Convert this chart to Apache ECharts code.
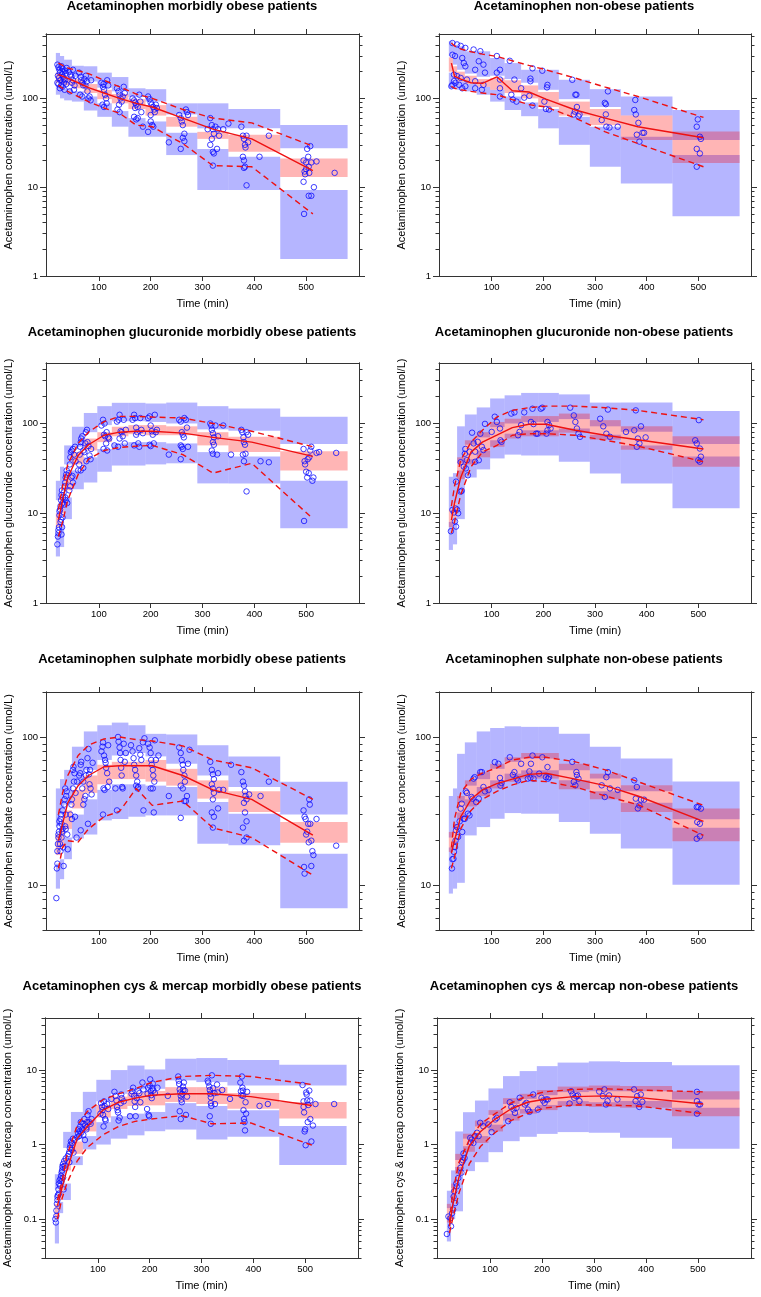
<!DOCTYPE html>
<html><head><meta charset="utf-8">
<script src="https://cdn.jsdelivr.net/npm/echarts@6/dist/echarts.min.js"></script>
<style>html,body{margin:0;padding:0;background:#fff}#c{width:761px;height:1297px}</style>
</head><body><div id="c"></div><script>
// ---------- shared ----------
const binEdges = [17,25,33,48,71,97,125,157,190,230,290,350,450,580];
const obeseTimes = [22,30,40,60,80,110,140,172,203,262,320,395,513];
const nonObeseTimes = [22,28,40,60,82,110,140,172,205,262,320,383,510];
const xTickValues = [100,200,300,400,500];
const yMajorA = [1,10,100];
const yMinorA = [2,3,4,5,6,7,8,9,20,30,40,50,60,70,80,90,200,300,400,500];
const yMajorS = [10,100];
const yMinorS = [5,6,7,8,9,20,30,40,50,60,70,80,90,200];
const yMajorC = [0.1,1,10];
const yMinorC = [0.03,0.04,0.05,0.06,0.07,0.08,0.09,0.2,0.3,0.4,0.5,0.6,0.7,0.8,0.9,2,3,4,5,6,7,8,9,20,30,40,50];
const titles = ["Acetaminophen morbidly obese patients","Acetaminophen non-obese patients",
  "Acetaminophen glucuronide morbidly obese patients","Acetaminophen glucuronide non-obese patients",
  "Acetaminophen sulphate morbidly obese patients","Acetaminophen sulphate non-obese patients",
  "Acetaminophen cys & mercap morbidly obese patients","Acetaminophen cys & mercap non-obese patients"];
const yNames = ["Acetaminophen concentration (umol/L)","Acetaminophen glucuronide concentration (umol/L)",
  "Acetaminophen sulphate concentration (umol/L)","Acetaminophen cys & mercap concentration (umol/L)"];
const xName = "Time (min)";

// ---------- Panel 1: acetaminophen, obese ----------
const p1LowBlue = [[110,140],[100,135],[95,128],[92,120],[73,105],[62,88],[48,72],[37,60],[37,55],[23,41],[9.3,27],[9.3,22],[1.55,9.3]];
const p1Pink = [[150,195],[145,188],[140,178],[130,165],[115,145],[98,125],[88,112],[76,98],[64,84],[48,62],[35,42],[25,39],[13,21]];
const p1UpBlue = [[205,325],[198,300],[188,273],[175,233],[155,230],[132,195],[120,174],[104,130],[92,127],[66,88],[46,88],[46,76],[27.5,50]];
const p1Median = [185,178,168,150,132,115,100,88,80,60,45,35,15.4];
const p1P95 = [250,235,220,205,190,160,135,112,100,75,60,53,29];
const p1P05 = [140,130,120,105,92,78,68,50,48,31,17.5,17,5];
const p1Obs = [[20,240],[22,225],[24,210],[25,195],[21,180],[23,170],[26,160],[20,150],[22,145],[27,140],[28,230],[30,215],[30,200],[29,185],[31,175],[32,165],[33,150],[30,135],[25,130],[35,205],[36,190],[35,160],[37,145],[38,220],[34,125],[42,200],[45,185],[47,175],[50,160],[48,150],[52,125],[44,120],[50,210],[55,180],[53,140],[62,195],[65,175],[66,160],[68,150],[70,140],[72,165],[75,180],[77,155],[78,120],[80,100],[82,105],[84,95],[64,110],[68,105],[74,140],[85,160],[105,150],[108,135],[110,125],[112,110],[114,100],[107,85],[110,80],[115,88],[116,160],[118,140],[109,145],[135,130],[138,120],[140,110],[142,100],[144,92],[136,75],[140,70],[146,105],[150,115],[139,85],[148,135],[165,100],[168,95],[170,90],[172,85],[175,80],[168,62],[172,58],[175,60],[178,110],[180,92],[182,70],[185,48],[170,78],[195,105],[198,98],[200,90],[202,85],[205,80],[207,75],[200,55],[203,50],[205,48],[195,42],[208,70],[210,85],[212,78],[200,65],[255,65],[258,60],[260,55],[262,50],[265,40],[262,36],[268,75],[270,70],[265,33],[258,27],[272,65],[235,32],[315,60],[318,50],[320,45],[322,40],[318,35],[315,30],[320,25],[322,24],[325,48],[330,45],[332,38],[328,27],[320,17.5],[310,45],[340,45],[375,48],[378,38],[380,35],[382,30],[383,28],[378,22],[380,20],[382,17],[385,10.5],[385,38],[388,32],[380,16.5],[410,22],[428,38],[350,52],[495,20],[497,15],[498,14],[500,19],[502,27],[504,22],[505,17],[506,14.5],[508,29],[510,19],[495,11.5],[505,8],[510,8],[515,10],[496,5],[500,16],[520,19.5],[555,14.5]];

// ---------- Panel 2: acetaminophen, non-obese ----------
const p2LowBlue = [[131,195],[128,160],[125,155],[120,145],[110,135],[92,125],[74,105],[63,90],[46,76],[30,62],[17,48],[11,37],[4.7,23]];
const p2Pink = [[200,290],[165,230],[155,200],[145,180],[135,165],[125,170],[115,160],[100,140],[80,118],[64,92],[50,76],[34,64],[18.7,42.5]];
const p2UpBlue = [[300,440],[240,400],[210,386],[190,339],[175,339],[180,285],[165,250],[150,210],[125,210],[98,162],[80,127],[64,105],[34,74]];
const p2Median = [250,178,165,150,148,175,122,118,98,74,60,48,36];
const p2P95 = [420,390,360,335,315,297,265,235,210,169,134,105,61];
const p2P05 = [137,130,125,120,115,110,97,85,80,60,42,31,17];
const p2Obs = [[24,420],[33,405],[40,390],[49,370],[65,355],[78,340],[110,300],[135,265],[179,218],[198,205],[24,310],[29,300],[43,285],[46,250],[49,230],[75,262],[84,240],[68,210],[87,195],[110,195],[116,210],[27,185],[33,178],[40,170],[52,163],[68,156],[84,142],[27,156],[30,150],[37,142],[49,137],[24,142],[22,137],[43,130],[68,130],[81,125],[116,163],[144,163],[116,130],[116,105],[138,110],[141,97],[148,92],[157,130],[163,102],[173,107],[175,156],[175,167],[179,83],[202,92],[207,133],[208,142],[205,76],[211,75],[256,162],[262,110],[264,110],[261,71],[265,80],[268,63],[270,66],[259,66],[313,57],[319,89],[321,86],[325,120],[321,66],[322,48],[328,47],[344,48],[378,96],[376,74],[379,66],[381,39],[384,53],[386,32.6],[392,41],[395,41],[499,58],[497,48],[503,37],[505,35],[497,27],[503,24],[497,17]];

// ---------- Panel 3: glucuronide, obese ----------
const p3LowBlue = [[3.3,6],[4.2,8],[8.6,15],[18.5,30],[22,42],[29,52],[34,60],[34,62],[35,62],[36,60],[21.5,48],[21.5,43],[6.8,23]];
const p3Pink = [[7,10],[10,15],[18,28],[35,48],[50,68],[62,80],[72,92],[76,96],[74,96],[74,93],[57,80],[48,71],[30,49]];
const p3UpBlue = [[14,23],[20,33],[35,57],[55,92],[80,131],[96,156],[106,170],[106,170],[104,167],[100,171],[86,156],[83,147],[59,119]];
const p3Median = [8.5,14,25,44,58,74,80,82,82,78,70,62,43];
const p3P95 = [11,20,35,60,80,105,120,120,118,115,100,82,55];
const p3P05 = [5.5,8,14,27,40,50,54,56,57,45,28,36,8.7];
const p3Obs = [[20,4.5],[21,5.5],[22,6],[22,6.5],[23,7],[24,9.5],[25,11],[24,10.5],[26,12],[27,14],[28,16],[29,18],[26,8],[27,8.5],[30,9],[30,13],[31,15],[32,17],[29,7],[28,5.8],[33,12.5],[34,20],[35,22],[36,25],[37,27],[35,15],[36,14],[38,30],[39,13],[42,28],[44,35],[45,42],[46,48],[48,50],[50,52],[47,25],[49,26],[52,45],[54,55],[55,38],[45,20],[50,22],[43,18],[60,30],[62,35],[63,45],[64,55],[65,62],[66,68],[68,72],[70,50],[72,48],[74,60],[75,80],[77,85],[78,62],[80,56],[82,44],[84,40],[70,32],[65,30],[85,52],[76,38],[105,95],[108,110],[110,75],[112,72],[114,60],[116,50],[118,70],[109,52],[111,100],[115,80],[120,68],[130,57],[135,105],[138,110],[140,125],[142,82],[144,80],[146,72],[150,60],[137,55],[148,110],[152,85],[140,68],[165,110],[168,125],[170,115],[172,90],[174,80],[176,60],[168,57],[180,115],[182,85],[178,55],[185,78],[172,75],[195,115],[198,120],[200,95],[202,82],[204,75],[206,60],[198,58],[200,56],[208,125],[210,80],[212,85],[255,110],[258,105],[260,80],[262,75],[264,70],[258,57],[260,55],[262,52],[265,115],[268,110],[270,90],[258,40],[235,45],[272,55],[315,100],[317,95],[318,85],[320,78],[320,62],[322,58],[318,50],[320,46],[325,95],[330,72],[328,45],[340,95],[355,45],[322,70],[375,85],[377,80],[379,70],[380,62],[382,58],[378,45],[380,38],[383,46],[385,80],[388,75],[385,17.5],[412,38],[428,37],[495,52],[497,38],[498,35],[500,29],[502,25],[505,28],[503,40],[506,42],[508,50],[510,55],[512,23],[514,25],[496,8.2],[520,47],[525,48],[558,47]];

// ---------- Panel 4: glucuronide, non-obese ----------
const p4LowBlue = [[3.9,8],[4.5,9],[8.6,30],[25,40],[30.8,50],[40.8,65],[45,77],[44,84],[44,84],[37.5,88],[27.8,75],[21.5,57],[11.4,43]];
const p4Pink = [[7,11],[9,13],[24,42],[35,65],[42,80],[55,104],[68,113],[72,121],[72,121],[79,129],[66,109],[51,93],[33,72]];
const p4UpBlue = [[11,25.5],[13,28],[36,93],[58,126],[70,151],[91,190],[100,206],[104,219],[104,219],[112,211],[93,171],[81,171],[59,138]];
const p4Median = [8.4,13,25,48,62,74,90,98,98,84,74,66,52];
const p4P95 = [12,20,39,62,84,118,140,150,156,156,150,140,110];
const p4P05 = [6,8,16,33,48,57,74,77,77,74,65,56,37.5];
const p4Obs = [[21,6.3],[24,10.9],[27,10.2],[30,11.3],[33,11],[29,8.1],[31,7.1],[35,10],[31,22.5],[40,17.4],[42,17.8],[40,37],[46,33],[49,52],[48,46],[52,39],[50,31.6],[54,26.5],[57,48.5],[62,79],[65,60],[68,48.5],[68,37.5],[73,62.5],[75,39],[78,77],[81,55],[84,50.6],[87,99],[100,80.6],[106,119],[110,104],[116,88],[117,65],[119,62.5],[138,129],[144,133],[151,74],[154,80.6],[157,96],[163,133],[176,104],[179,146],[181,98.5],[186,77],[189,77],[195,146],[198,150],[206,77],[208,84],[208,104],[211,96],[214,88],[252,150],[259,123],[262,104],[265,88],[268,77],[271,71],[310,113],[316,93],[322,77],[325,143],[329,71],[360,80.6],[376,84],[379,140],[381,55],[383,68],[386,60],[389,93],[398,70],[494,65],[497,60],[500,39],[501,109],[503,52.6],[505,42.7],[503,37.5]];

// ---------- Panel 5: sulphate, obese ----------
const p5LowBlue = [[9.5,14],[11,15],[15,21],[20.7,30],[22,38],[27.4,44],[28,48],[29,48],[29.6,47],[29.6,46],[19.1,36.5],[18.6,30.4],[7,16.3]];
const p5Pink = [[16,22],[18,25],[24,32],[33,44],[42,55],[48,65],[52,68],[52,68],[50,70],[47,61],[38.4,51],[31.2,43],[19.4,26.7]];
const p5UpBlue = [[25,45],[30,52],[35,60],[48,86],[60,109],[70,120],[75,125],[78,120],[74,105],[66,104],[55,88],[46,74],[30,50]];
const p5Median = [20,26,36,47,55,63,64,64,64,55,44,38,21.8];
const p5P95 = [30,42,55,75,88,97,100,96,94,87,70,62,38];
const p5P05 = [13,18,20,19.6,24,29,31.5,45,34.6,37,24.4,21,11.7];
const p5Obs = [[18,8.2],[19,13],[20,14],[20,17],[21,19],[22,21],[22,22],[23,23],[24,25],[24,27],[25,19],[26,17],[26,28],[27,30],[28,26],[28,21],[29,23],[30,24],[30,32],[31,18],[32,13.5],[33,35],[34,38],[35,25],[36,24],[37,40],[38,43],[39,22],[40,17.5],[36,30],[35,45],[45,30],[47,35],[48,38],[50,45],[52,50],[50,60],[51,63],[53,57],[55,42],[57,21],[48,28],[54,29],[58,50],[62,55],[64,57],[65,65],[66,68],[68,45],[70,50],[72,38],[74,40],[75,55],[76,60],[78,72],[80,83],[81,56],[82,48],[84,45],[86,41],[88,67],[65,23.5],[79,26],[70,35],[83,60],[105,80],[107,86],[108,92],[110,75],[112,70],[113,67],[114,62],[116,57],[118,88],[109,45],[111,44],[108,30],[117,46],[120,50],[132,45],[135,32],[137,100],[138,93],[140,85],[141,78],[142,70],[143,62],[144,55],[145,46],[148,90],[150,68],[152,78],[146,45],[162,88],[165,80],[167,72],[168,65],[170,60],[172,55],[174,50],[176,46],[178,84],[180,76],[182,70],[185,92],[188,98],[186,32],[175,45],[172,47],[195,90],[198,85],[200,78],[201,70],[202,65],[204,60],[205,55],[207,50],[200,45],[204,45],[206,31],[208,95],[210,70],[215,75],[235,40],[255,85],[258,78],[260,70],[262,65],[263,60],[265,55],[266,50],[258,47],[262,45],[265,37],[268,37],[270,40],[258,28.5],[272,66],[275,82],[315,68],[318,60],[320,56],[322,52],[318,48],[320,45],[322,42],[320,38],[318,31],[322,29],[320,24.5],[330,57],[332,44],[330,33],[340,44],[355,65],[375,58],[378,50],[380,47],[382,43],[383,40],[385,38],[380,36],[382,31],[385,27],[378,24.5],[380,20],[385,21],[390,41],[412,40],[428,50],[495,32],[497,29],[499,28],[500,22],[502,23],[504,26],[506,38],[507,35],[508,26],[510,20],[512,17],[514,16],[496,13.3],[497,12],[510,13.5],[505,19.5],[520,28],[558,18.5]];

// ---------- Panel 6: sulphate, non-obese ----------
const p6LowBlue = [[8.8,18],[9.5,20],[10.4,31],[21.7,38],[24.7,46],[28.1,51],[30.7,56.6],[30.4,59.6],[30.4,59.6],[26.7,51],[22.3,43],[17.7,36],[10.1,24.4]];
const p6Pink = [[16.8,22.9],[19,26],[28,40],[34,51],[40,58],[45,66],[49.8,73],[52.4,78],[52.4,78],[44.4,66],[38,56.6],[31.2,47.2],[19.8,32.9]];
const p6UpBlue = [[21,40],[24,45],[36,77],[47,92],[52,109],[61,115],[68,118],[71.5,117],[71.5,117],[59.6,105],[52.4,86],[43,71.5],[27.9,50.2]];
const p6Median = [16.5,20,29,38,44,48.5,52,56,57,52,47,40,27];
const p6P95 = [18,28,42,52,57,62,70,73,73,68,60,50,34.6];
const p6P05 = [13,15.5,24,32,38,43,47.5,51,50,46,40,35,21.7];
const p6Obs = [[23,13],[24,15],[26,15.1],[27,16.8],[29,18.1],[30,20],[31,23.5],[33,24.7],[35,21.2],[38,27],[40,32.9],[42,35.5],[43,22.9],[46,28.1],[48,28.1],[50,43],[52,42],[54,30.4],[57,29.6],[61,39.4],[63,38.4],[65,52.4],[67,53.6],[70,36.4],[75,38.4],[78,58],[81,58],[84,46],[87,43],[94,44],[106,67.7],[113,66],[116,53],[117,47],[119,49],[135,73],[141,55.6],[144,58],[148,52.4],[151,51],[157,66],[170,52.4],[173,58.6],[175,53],[176,66],[179,75],[181,52.4],[192,56.6],[198,73],[205,53.6],[208,62.7],[209,52.4],[211,53.6],[256,68],[259,49.8],[262,47.2],[264,58],[265,55.4],[268,52.4],[313,47.2],[319,39.4],[322,53.6],[325,58],[329,45],[344,44],[376,51],[379,38.4],[381,46],[383,33],[386,34.6],[389,37.8],[395,37.8],[497,33.7],[500,33.7],[505,32.9],[498,26.7],[503,26],[497,20.6],[503,21.4]];

// ---------- Panel 7: cys & mercap, obese ----------
const p7LowBlue = [[0.047,0.09],[0.12,0.17],[0.18,0.3],[0.53,0.7],[0.86,1.3],[1.0,2.0],[1.2,2.4],[1.33,2.6],[1.51,2.74],[1.59,3.6],[1.17,3.3],[1.27,2.88],[0.53,1.78]];
const p7Pink = [[0.1,0.16],[0.18,0.28],[0.45,0.65],[0.75,1.1],[1.5,2.2],[2.3,3.4],[3.0,4.4],[3.3,5.0],[3.36,5.23],[3.73,5.9],[3.5,5.9],[3.03,4.92],[2.23,3.73]];
const p7UpBlue = [[0.25,0.4],[0.3,0.55],[0.9,1.48],[1.2,2.74],[2.2,5.1],[3.8,7.4],[4.8,10],[5.5,11.5],[5.6,10.2],[7.27,14.2],[6.9,14.5],[6.2,13.7],[6.2,11.8]];
const p7Median = [0.15,0.25,0.45,1.2,1.76,2.9,3.7,4.2,4.6,4.8,4.8,4.4,3.35];
const p7P95 = [0.18,0.3,0.7,1.8,2.8,4.0,4.8,5.6,6.8,8.2,8.5,8.2,6.4];
const p7P05 = [0.1,0.18,0.3,0.6,0.92,1.35,1.75,2.05,2.2,2.45,1.9,1.95,0.98];
const p7Obs = [[18,0.1],[19,0.09],[20,0.11],[20,0.13],[21,0.16],[22,0.18],[22,0.2],[23,0.21],[24,0.25],[25,0.3],[25,0.22],[26,0.33],[27,0.28],[28,0.35],[29,0.38],[30,0.32],[30,0.42],[31,0.45],[32,0.5],[33,0.55],[33,0.36],[35,0.6],[36,0.52],[37,0.48],[34,0.25],[38,0.65],[42,0.7],[44,0.75],[45,0.8],[46,0.9],[47,0.98],[48,1.1],[50,1.05],[50,0.85],[52,1.2],[53,0.78],[45,0.58],[55,1.15],[60,1.25],[62,1.4],[63,1.6],[64,1.3],[65,1.5],[66,1.75],[67,2.0],[68,1.45],[70,1.6],[72,1.9],[74,2.2],[75,1.15],[76,1.8],[78,1.6],[79,2.0],[80,2.5],[82,2.8],[84,2.0],[86,1.9],[88,2.2],[72,1.35],[78,1.7],[105,2.6],[106,3.6],[108,3.2],[109,2.9],[110,2.5],[111,1.75],[112,3.8],[113,3.3],[114,2.2],[115,2.1],[118,3.5],[120,3.0],[126,4.1],[132,5.1],[134,4.5],[136,3.9],[137,3.2],[138,2.9],[139,2.7],[140,2.1],[142,2.3],[144,3.6],[145,4.7],[146,4.2],[150,3.8],[162,2.4],[165,4.8],[166,5.2],[168,5.8],[170,4.5],[171,3.8],[172,3.2],[173,2.4],[175,4.2],[178,5.2],[180,4.9],[182,3.7],[186,6.8],[188,5.5],[195,3.0],[196,4.8],[197,5.8],[198,2.5],[199,2.4],[200,6.2],[201,7.5],[202,5.2],[203,4.6],[204,4.2],[205,5.7],[206,6.6],[207,5.3],[210,4.9],[215,5.8],[235,4.5],[255,8.2],[256,7.2],[257,6.5],[258,5.5],[259,5.0],[260,4.5],[261,4.0],[262,3.7],[258,2.8],[260,2.2],[263,4.8],[264,6.0],[265,5.4],[266,6.8],[268,5.3],[270,2.5],[272,4.4],[312,7.2],[313,6.8],[315,6.0],[316,5.4],[317,4.8],[318,4.3],[318,3.6],[319,3.3],[316,2.4],[318,1.9],[320,8.5],[322,5.7],[325,4.9],[326,3.5],[330,6.4],[331,5.0],[340,5.4],[355,4.1],[375,6.8],[376,5.2],[377,4.6],[378,8.2],[379,5.8],[380,5.3],[380,4.5],[381,2.9],[382,2.2],[383,2.0],[384,1.55],[385,3.7],[386,2.6],[388,5.1],[412,3.3],[428,3.5],[495,6.3],[497,3.2],[498,2.7],[499,1.5],[500,1.6],[501,0.98],[502,5.0],[503,4.7],[504,3.9],[505,2.0],[506,3.4],[508,5.3],[510,2.2],[512,1.1],[515,1.8],[520,3.5],[556,3.5],[497,3.8],[510,3.9]];

// ---------- Panel 8: cys & mercap, non-obese ----------
const p8LowBlue = [[0.05,0.11],[0.1,0.21],[0.127,0.5],[0.44,0.95],[0.58,1.3],[0.79,1.85],[1.11,2.6],[1.27,3.0],[1.39,3.4],[1.47,3.83],[1.44,3.7],[1.23,3.83],[0.88,3.11]];
const p8Pink = [[0.09,0.16],[0.18,0.3],[0.4,0.75],[0.8,1.4],[1.05,2.1],[1.5,2.9],[2.1,4.2],[2.6,4.8],[2.9,5.4],[3.28,6.0],[3.2,6.2],[3.11,6.1],[2.4,5.2]];
const p8UpBlue = [[0.14,0.24],[0.26,0.45],[0.62,1.5],[1.2,2.72],[1.75,3.9],[2.5,5.67],[3.5,8.3],[4.1,9.7],[4.6,11.3],[5.06,12.6],[5.2,13.1],[5.2,12.8],[4.03,11.6]];
const p8Median = [0.08,0.15,0.36,0.95,1.5,2.2,3.0,3.7,4.05,4.4,4.5,4.3,3.5];
const p8P95 = [0.09,0.22,0.57,1.15,1.9,2.6,3.6,4.5,5.1,5.5,5.6,5.4,5.1];
const p8P05 = [0.065,0.1,0.22,0.55,0.95,1.45,2.1,2.6,3.1,3.4,3.4,3.3,2.6];
const p8Obs = [[17,0.063],[20,0.108],[24,0.103],[25,0.08],[27,0.12],[29,0.134],[30,0.2],[31,0.236],[33,0.164],[35,0.3],[36,0.275],[39,0.356],[43,0.486],[45,0.42],[46,0.58],[48,0.615],[49,0.76],[51,0.66],[62,1.23],[63,1.07],[65,1.17],[68,1.05],[71,1.3],[75,1.44],[78,1.3],[81,1.96],[87,1.76],[97,1.86],[103,1.47],[110,2.17],[113,2.28],[135,2.06],[138,3.7],[141,3.2],[145,2.95],[148,2.66],[151,3.11],[157,4.24],[167,3.45],[170,3.63],[173,2.95],[176,2.75],[183,4.7],[192,2.95],[199,4.24],[202,3.9],[205,3.63],[208,4.03],[211,4.03],[253,3.56],[256,5.2],[259,4.7],[262,4.24],[266,4.47],[269,4.57],[272,3.83],[310,5.15],[317,4.47],[320,5.5],[323,3.45],[326,3.83],[329,4.57],[345,4.03],[377,5.5],[380,3.83],[383,4.47],[387,3.2],[390,4.7],[393,3.75],[498,5.1],[498,3.83],[501,3.45],[504,3.45],[498,2.6]];

// ---------- build ----------
const panels = [
  {low:p1LowBlue, pink:p1Pink, up:p1UpBlue, med:p1Median, p95:p1P95, p05:p1P05, obs:p1Obs, times:obeseTimes},
  {low:p2LowBlue, pink:p2Pink, up:p2UpBlue, med:p2Median, p95:p2P95, p05:p2P05, obs:p2Obs, times:nonObeseTimes},
  {low:p3LowBlue, pink:p3Pink, up:p3UpBlue, med:p3Median, p95:p3P95, p05:p3P05, obs:p3Obs, times:obeseTimes},
  {low:p4LowBlue, pink:p4Pink, up:p4UpBlue, med:p4Median, p95:p4P95, p05:p4P05, obs:p4Obs, times:nonObeseTimes},
  {low:p5LowBlue, pink:p5Pink, up:p5UpBlue, med:p5Median, p95:p5P95, p05:p5P05, obs:p5Obs, times:obeseTimes},
  {low:p6LowBlue, pink:p6Pink, up:p6UpBlue, med:p6Median, p95:p6P95, p05:p6P05, obs:p6Obs, times:nonObeseTimes},
  {low:p7LowBlue, pink:p7Pink, up:p7UpBlue, med:p7Median, p95:p7P95, p05:p7P05, obs:p7Obs, times:obeseTimes},
  {low:p8LowBlue, pink:p8Pink, up:p8UpBlue, med:p8Median, p95:p8P95, p05:p8P05, obs:p8Obs, times:nonObeseTimes}
];
const yRanges = [[1,531],[1,531],[1,472],[1,472],[5,201],[5,201],[0.03,50],[0.03,50]];
const yMajors = [yMajorA,yMajorA,yMajorA,yMajorA,yMajorS,yMajorS,yMajorC,yMajorC];
const yMinors = [yMinorA,yMinorA,yMinorA,yMinorA,yMinorS,yMinorS,yMinorC,yMinorC];
const boxes = [
  {left:46, top:34, width:313, height:242, tx:192, ty:0},
  {left:439, top:34, width:312, height:242, tx:584, ty:0},
  {left:46, top:363, width:313, height:240, tx:192, ty:326},
  {left:439, top:363, width:312, height:240, tx:584, ty:326},
  {left:46, top:692, width:313, height:238, tx:192, ty:653},
  {left:439, top:692, width:312, height:238, tx:584, ty:653},
  {left:45, top:1018, width:313, height:240, tx:192, ty:980},
  {left:437, top:1018, width:314, height:240, tx:584, ty:980}
];
const FONT = 'Liberation Sans, Arial, sans-serif';
const AX = '#333';
const BLUE = 'rgba(0,0,255,0.29)';
const PINK = 'rgba(255,0,0,0.29)';
const RED = '#ee1111';

const grid = [], xAxis = [], yAxis = [], series = [], title = [];
boxes.forEach((b, i) => {
  grid.push({left:b.left, top:b.top, width:b.width, height:b.height, containLabel:false});
  title.push({text:titles[i], left:b.tx, top:b.ty, textAlign:'center', padding:0,
    textStyle:{fontSize:13, fontWeight:'bold', color:'#000', fontFamily:FONT}});
  const xBase = {type:'value', gridIndex:i, min:-2, max:602, splitLine:{show:false},
    axisLine:{show:true, onZero:false, lineStyle:{color:AX, width:1}},
    axisTick:{show:true, customValues:xTickValues, length:5, lineStyle:{color:AX}}};
  xAxis.push(Object.assign({}, xBase, {position:'bottom', name:xName, nameLocation:'middle', nameGap:22,
    nameTextStyle:{fontSize:11, color:'#000', fontFamily:FONT},
    axisLabel:{show:true, customValues:xTickValues, fontSize:9.5, margin:6, color:'#000', fontFamily:FONT}}));
  xAxis.push(Object.assign({}, xBase, {position:'top', axisLabel:{show:false}}));
  const yBase = {type:'log', logBase:10, gridIndex:i, min:yRanges[i][0], max:yRanges[i][1], splitLine:{show:false},
    axisLine:{show:true, onZero:false, lineStyle:{color:AX, width:1}}};
  const mj = yMajors[i], mn = yMinors[i];
  yAxis.push(Object.assign({}, yBase, {position:'left', name:yNames[Math.floor(i/2)], nameLocation:'middle', nameGap:32,
    nameTextStyle:{fontSize:11, color:'#000', fontFamily:FONT},
    axisTick:{show:true, customValues:mj, length:6, lineStyle:{color:AX}},
    axisLabel:{show:true, customValues:mj, fontSize:9.5, margin:8, color:'#000', fontFamily:FONT}}));
  yAxis.push(Object.assign({}, yBase, {position:'left', axisTick:{show:true, customValues:mn, length:3.5, lineStyle:{color:AX}}, axisLabel:{show:false}}));
  yAxis.push(Object.assign({}, yBase, {position:'right', axisTick:{show:true, customValues:mj, length:6, lineStyle:{color:AX}}, axisLabel:{show:false}}));
  yAxis.push(Object.assign({}, yBase, {position:'right', axisTick:{show:true, customValues:mn, length:3.5, lineStyle:{color:AX}}, axisLabel:{show:false}}));

  const p = panels[i];
  const xi = 2*i, yi = 4*i;
  const toBand = arr => arr.map((v, k) => [binEdges[k], binEdges[k+1], v[0], v[1]]);
  const bandSeries = (data, color, z) => ({
    type:'custom', xAxisIndex:xi, yAxisIndex:yi, z:z, silent:true, clip:true,
    dimensions:['x0','x1','lo','hi'], encode:{x:[0,1], y:[2,3]}, data:data,
    renderItem:function(params, api){
      const a = api.coord([api.value(0), api.value(3)]);
      const c = api.coord([api.value(1), api.value(2)]);
      return {type:'rect', shape:{x:a[0], y:a[1], width:c[0]-a[0], height:c[1]-a[1]}, style:{fill:color}};
    }
  });
  series.push(bandSeries(toBand(p.low).concat(toBand(p.up)), BLUE, 1));
  series.push(bandSeries(toBand(p.pink), PINK, 2));
  series.push({type:'scatter', xAxisIndex:xi, yAxisIndex:yi, z:3, silent:true, data:p.obs,
    symbol:'circle', symbolSize:5.5,
    itemStyle:{color:'rgba(0,0,0,0)', borderColor:'#1010ff', borderWidth:1}});
  const line = (vals, dashed) => ({type:'line', xAxisIndex:xi, yAxisIndex:yi, z:4, silent:true,
    data:p.times.map((t,k)=>[t, vals[k]]), showSymbol:false, symbol:'none',
    lineStyle:{color:RED, width:1.4, type: dashed ? [6,4] : 'solid'}});
  series.push(line(p.p05, true));
  series.push(line(p.p95, true));
  series.push(line(p.med, false));
});

const chart = echarts.init(document.getElementById('c'), null, {renderer:'canvas'});
chart.setOption({animation:false, backgroundColor:'#fff', title, grid, xAxis, yAxis, series});
</script></body></html>
